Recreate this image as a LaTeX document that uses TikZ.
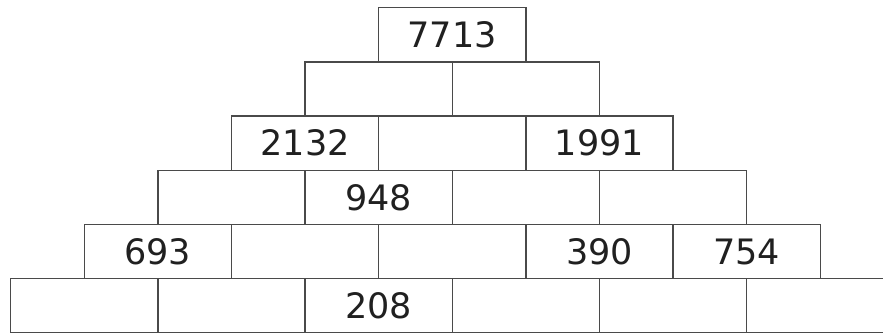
\documentclass[tikz,border=0pt]{standalone}
\usepackage{fontspec}
\setmainfont{DejaVu Sans}
\definecolor{edge}{HTML}{4A4A4A}
\definecolor{ink}{HTML}{202020}
\tikzset{
  cell/.style={draw=edge, line width=1.3pt, anchor=north west, inner sep=0pt,
    minimum width=147.2pt, minimum height=54.2pt, text=ink,
    font=\fontsize{35}{35}\selectfont},
}
\begin{document}
\begin{tikzpicture}[x=1pt,y=-1pt]
\useasboundingbox[fill=white] (0,0) rectangle (883,332);
\foreach \r/\labels in {1/{7713},2/{,},3/{2132,,1991},4/{,948,,},5/{693,,,390,754},6/{,,208,,,}}{
  \foreach \t [count=\i from 0] in \labels {
    \node[cell] (b-\r-\i) at ({378-(\r-1)*73.6+\i*147.2},{7+(\r-1)*54.2}) {\t};
  }
}
\end{tikzpicture}
\end{document}
